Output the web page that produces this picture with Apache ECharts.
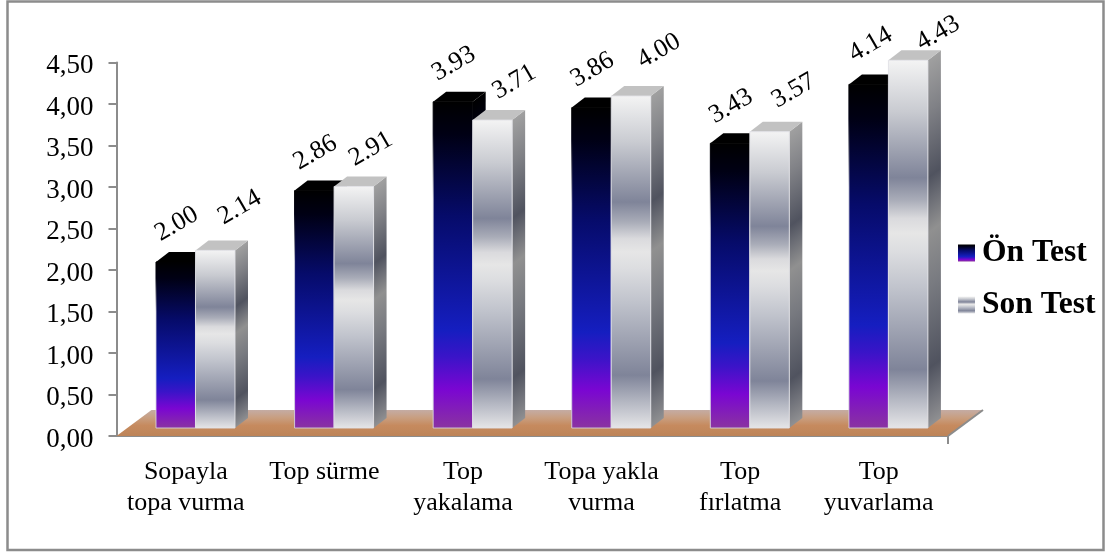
<!DOCTYPE html>
<html>
<head>
<meta charset="utf-8">
<style>html,body{margin:0;padding:0;background:#fff}#chart{width:1112px;height:554px}</style>
<script src="https://cdn.jsdelivr.net/npm/echarts@6/dist/echarts.min.js"></script>
</head>
<body>
<div id="chart"></div>
<script>
// Motor skill scores, pre-test and post-test
const categories = ['Sopayla\ntopa vurma', 'Top sürme', 'Top\nyakalama', 'Topa yakla\nvurma', 'Top\nfırlatma', 'Top\nyuvarlama'];
const seriesNames = ['Ön Test', 'Son Test'];
const onTest = [2.00, 2.86, 3.93, 3.86, 3.43, 4.14];
const sonTest = [2.14, 2.91, 3.71, 4.00, 3.57, 4.43];

// Hand-placed value labels: pixel shift from each bar's top centre
const onLabelShift = [[1, -38], [1, -38], [1, -38], [1, -38], [1, -37], [2, -40]];
const sonLabelShift = [[24.5, -43], [17, -37.5], [22, -38], [28, -45], [24, -41], [30, -27]];

const FONT = '"Liberation Serif", "Times New Roman", serif';
const AXIS = '#8c8c8c';
const DEPTH_X = 13, DEPTH_Y = -10;     // bar extrusion
const BASE_Y = -8;                     // bars stand on the middle of the floor
const FLOOR_X = 35, FLOOR_Y = -26;     // floor extrusion

const linear = (x, y, x2, y2, stops, global) => ({
  type: 'linear', x, y, x2, y2, global: !!global,
  colorStops: stops.map(s => ({ offset: s[0], color: s[1] }))
});

const onStops = [[0, '#000000'], [0.1, '#000014'], [0.35, '#060b6a'], [0.7, '#151ec0'], [0.78, '#3a14c8'], [0.88, '#7a06d2'], [1, '#8a34a0']];
const sonStops = [[0, '#f4f4f4'], [0.14, '#c9cbd1'], [0.32, '#7f8499'], [0.38, '#a9acb8'], [0.43, '#dadadd'], [0.47, '#e6e6e6'], [0.52, '#dcdde0'], [0.62, '#c0c3cc'], [0.84, '#7f8499'], [0.92, '#b4b7c2'], [1, '#e6e6e8']];
const sonSideStops = [[0, '#a0a0a0'], [0.14, '#808186'], [0.32, '#50535f'], [0.38, '#6a6c74'], [0.47, '#909090'], [0.62, '#787a80'], [0.84, '#50535f'], [0.92, '#70727a'], [1, '#909092']];
const onEdge = [[0, '#000000'], [0.1, '#000014'], [0.3, 'rgba(214,214,224,0.8)'], [1, 'rgba(214,214,224,0.85)']];
const sonEdge = [[0, 'rgba(225,225,230,0.9)'], [1, 'rgba(225,225,230,0.9)']];

function bar3d(offsetA, offsetB, stops, sideStops, topColor, edgeStops, shifts) {
  return function (params, api) {
    const i = api.value(0), v = api.value(1);
    const top = api.coord([i, v]);
    const zero = api.coord([i, 0]);
    const band = api.size([1, 0])[0];
    const xL = top[0] + offsetA * band, xR = top[0] + offsetB * band;
    const yT = top[1] + BASE_Y, yB = zero[1] + BASE_Y;
    const h = yB - yT;
    const len = Math.hypot(DEPTH_X, DEPTH_Y);
    const nx = -DEPTH_Y / len, ny = DEPTH_X / len;
    const span = h * ny;
    const shift = shifts[params.dataIndex];
    return {
      type: 'group',
      children: [
        { type: 'polygon', shape: { points: [[xR, yT], [xR + DEPTH_X, yT + DEPTH_Y], [xR + DEPTH_X, yB + DEPTH_Y], [xR, yB]] },
          style: { fill: linear(xR, yT, xR + nx * span, yT + ny * span, sideStops, true) } },
        { type: 'polygon', shape: { points: [[xL, yT], [xL + DEPTH_X, yT + DEPTH_Y], [xR + DEPTH_X, yT + DEPTH_Y], [xR, yT]] },
          style: { fill: topColor } },
        { type: 'rect', shape: { x: xL, y: yT, width: xR - xL, height: h },
          style: { fill: linear(0, 0, 0, 1, stops), stroke: linear(0, 0, 0, 1, edgeStops), lineWidth: 1 } },
        { type: 'text', x: (xL + xR) / 2 + shift[0], y: yT + shift[1], rotation: 30 * Math.PI / 180,
          style: { text: v.toFixed(2), font: '26px ' + FONT, fill: '#000', align: 'center', verticalAlign: 'middle' } }
      ]
    };
  };
}

const rows = arr => arr.map((v, i) => [i, v]);

const option = {
  animation: false,
  backgroundColor: '#fff',
  graphic: [{
    type: 'rect', z: -1, silent: true,
    shape: { x: 7.5, y: 1.5, width: 1096, height: 548.5 },
    style: { fill: '#fff', stroke: AXIS, lineWidth: 2.5 }
  }],
  grid: { left: 116.5, right: 164, top: 62.5, height: 373.5, containLabel: false },
  legend: {
    orient: 'vertical', left: 953, top: 232, itemWidth: 17, itemHeight: 17, itemGap: 20,
    icon: 'rect',
    textStyle: { fontFamily: FONT, fontSize: 31.5, fontWeight: 'bold', color: '#000', padding: [-6, 0, 0, 2] },
    data: seriesNames
  },
  xAxis: {
    type: 'category', data: categories,
    axisLine: { lineStyle: { color: AXIS, width: 2 } },
    axisTick: { alignWithLabel: false, length: 8, lineStyle: { color: AXIS, width: 2 } },
    axisLabel: { fontFamily: FONT, fontSize: 26, color: '#000', lineHeight: 31, margin: 21, interval: 0 }
  },
  yAxis: {
    type: 'value', min: 0, max: 4.5, interval: 0.5,
    splitLine: { show: false },
    axisLine: { show: true, lineStyle: { color: AXIS, width: 2 } },
    axisTick: { show: true, length: 8, lineStyle: { color: AXIS, width: 2 } },
    axisLabel: { fontFamily: FONT, fontSize: 27, color: '#000', margin: 23, lineHeight: 27, verticalAlign: 'top', padding: [-10, 0, 0, 0], formatter: v => v.toFixed(2).replace('.', ',') }
  },
  series: [
    {
      // Floor under the bars, spanning the whole category axis
      type: 'custom', silent: true, z: 1, clip: false, data: [[0, 0]],
      encode: { x: 0, y: 1 }, legendHoverLink: false,
      renderItem: (params, api) => {
        const c = params.coordSys;
        const l = c.x, r = c.x + c.width, b = c.y + c.height;
        return {
          type: 'group',
          children: [
            { type: 'polygon', shape: { points: [[l, b], [l + FLOOR_X, b + FLOOR_Y], [r + FLOOR_X, b + FLOOR_Y], [r, b]] },
              style: { fill: linear(0, 0, 0, 1, [[0, '#c4aca4'], [0.3, '#c89e80'], [0.6, '#c68a5e'], [1, '#bd8458']]) } },
            { type: 'line', shape: { x1: r, y1: b, x2: r + FLOOR_X, y2: b + FLOOR_Y }, style: { stroke: AXIS, lineWidth: 2 } },
            { type: 'line', shape: { x1: r, y1: b, x2: r, y2: b + 8 }, style: { stroke: AXIS, lineWidth: 2 } }
          ]
        };
      }
    },
    {
      name: seriesNames[0], type: 'custom', z: 2, clip: false, data: rows(onTest), encode: { x: 0, y: 1 },
      itemStyle: { color: linear(0, 0, 0, 1, onStops) },
      renderItem: bar3d(-0.215, 0.07, onStops, onStops, '#000000', onEdge, onLabelShift)
    },
    {
      name: seriesNames[1], type: 'custom', z: 3, clip: false, data: rows(sonTest), encode: { x: 0, y: 1 },
      itemStyle: { color: linear(0, 0, 0, 1, sonStops) },
      renderItem: bar3d(0.07, 0.355, sonStops, sonSideStops, '#c2c2c2', sonEdge, sonLabelShift)
    }
  ]
};

const chart = echarts.init(document.getElementById('chart'), null, { renderer: 'canvas' });
chart.setOption(option);
</script>
</body>
</html>
